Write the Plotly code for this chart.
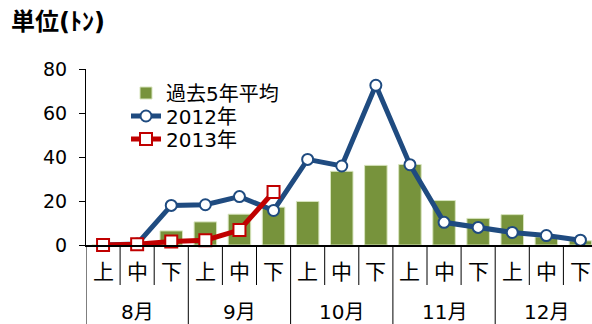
import plotly.graph_objects as go

# Harvest volume by ten-day period (上/中/下旬), August to December
months = ["8月", "9月", "10月", "11月", "12月"]
periods = ["上", "中", "下"]

avg5 = [0, 0.3, 6.4, 10.5, 14.0, 17.2, 19.8, 33.5, 36.2, 36.6, 20.2, 12.1, 13.8, 3.7, 1.9]
y2012 = [0, 0.5, 18.0, 18.3, 22.0, 15.7, 38.9, 35.9, 72.6, 36.5, 10.3, 8.0, 5.7, 4.3, 2.2]
y2013 = [0, 0.3, 1.6, 2.2, 6.8, 24.1]

series_names = ["過去5年平均", "2012年", "2013年"]
y_ticks = [0, 20, 40, 60, 80]

n = len(months) * len(periods)
xs = list(range(n))

FONT = "DejaVu Sans, Noto Sans CJK JP, sans-serif"
BLUE = "#1F4B80"
RED = "#C00000"
GREEN = "#77933C"

W, H = 592, 324
L, R, T, B = 86, 0, 69, 79
plot_w = W - L - R
plot_h = H - T - B
cat_px = 34.1


def py(px_from_top):
    """Convert a pixel row into paper y coordinates."""
    return (H - B - px_from_top) / plot_h


fig = go.Figure()

fig.add_trace(go.Bar(
    x=xs, y=avg5, name=series_names[0], width=0.66, legend="legend",
    marker=dict(color=GREEN, line=dict(color="#D7E4BD", width=1)),
))
fig.add_trace(go.Scatter(
    x=xs, y=y2012, name=series_names[1], mode="lines+markers", legend="legend2",
    line=dict(color=BLUE, width=5),
    marker=dict(symbol="circle", size=11, color="white",
                line=dict(color=BLUE, width=2)),
    cliponaxis=False,
))
fig.add_trace(go.Scatter(
    x=xs[:len(y2013)], y=y2013, name=series_names[2], mode="lines+markers",
    legend="legend3",
    line=dict(color=RED, width=5),
    marker=dict(symbol="square", size=12, color="white",
                line=dict(color=RED, width=2)),
    cliponaxis=False,
))

# Two-level category labels below the axis
annotations = []
for i in xs:
    annotations.append(dict(
        x=i, y=py(272), xref="x", yref="paper", text=periods[i % 3],
        showarrow=False, font=dict(size=21, color="black", family=FONT),
        xanchor="center", yanchor="middle",
    ))
for k, m in enumerate(months):
    annotations.append(dict(
        x=3 * k + 1, y=py(312), xref="x", yref="paper", text=m,
        showarrow=False, font=dict(size=20, color="black", family=FONT),
        xanchor="center", yanchor="middle",
    ))

# Separators between periods (short) and months (full height)
shapes = []
for b in range(n + 1):
    long = b % 3 == 0
    shapes.append(dict(
        type="line", xref="x", yref="paper",
        x0=b - 0.5, x1=b - 0.5, y0=0, y1=py(H) if long else py(285),
        line=dict(color="black", width=1),
    ))


def legend_box(row_px):
    return dict(x=(126 - L) / plot_w, y=py(row_px), xanchor="left",
                yanchor="middle", bgcolor="rgba(0,0,0,0)",
                font=dict(size=20, family=FONT, color="black"),
                itemwidth=30, tracegroupgap=0)


fig.update_layout(
    width=W, height=H, autosize=False,
    margin=dict(l=L, r=R, t=T, b=B, pad=0),
    paper_bgcolor="white", plot_bgcolor="white",
    font=dict(family=FONT, color="black"),
    title=dict(text="<b>単位(ﾄﾝ)</b>", x=11 / W, xanchor="left",
               y=1 - 22 / H, yanchor="middle",
               font=dict(size=24, family=FONT, color="black")),
    showlegend=True,
    legend=legend_box(93),
    legend2=legend_box(116),
    legend3=legend_box(139),
    bargap=0.34,
    xaxis=dict(range=[-0.5, -0.5 + plot_w / cat_px], showticklabels=False,
               ticks="", showgrid=False, zeroline=False, showline=True,
               linecolor="black", linewidth=1.5, fixedrange=True),
    yaxis=dict(range=[0, 80], tickvals=y_ticks, ticks="outside", ticklen=6,
               tickcolor="black", tickwidth=1, showgrid=False, zeroline=False,
               showline=True, linecolor="black", linewidth=1,
               tickfont=dict(size=19, family=FONT, color="black"),
               ticklabelstandoff=8, fixedrange=True),
    annotations=annotations,
    shapes=shapes,
)

fig.write_html("out.html")
